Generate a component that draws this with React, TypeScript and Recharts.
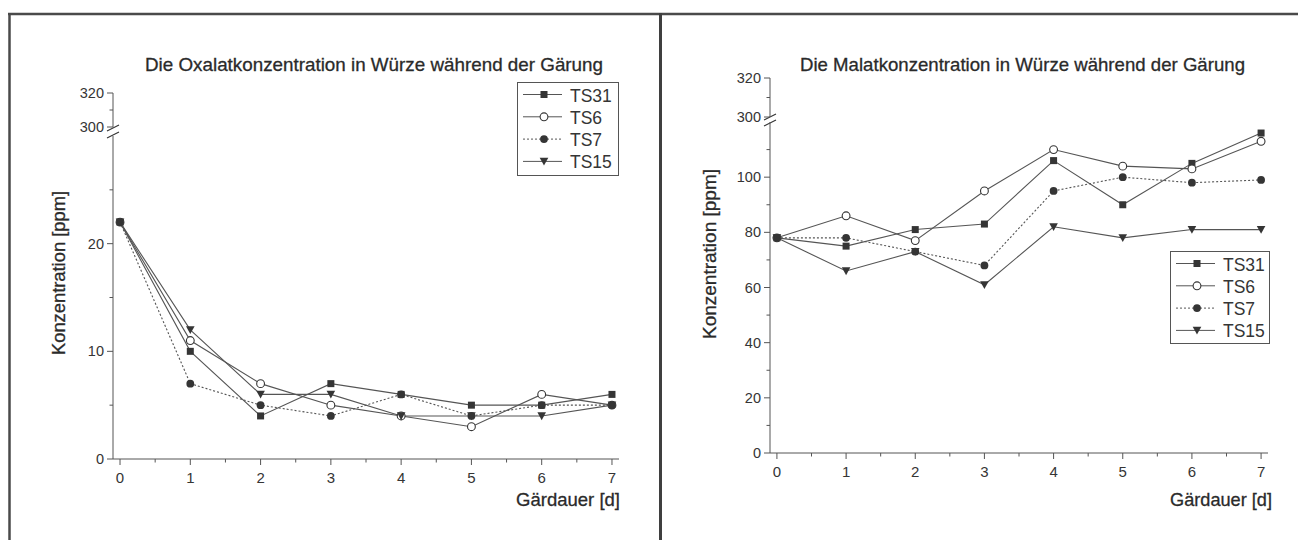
import React from 'react';
import { LineChart, Line, XAxis, YAxis, Legend } from 'recharts';

// ---------- data ----------
const days = [0, 1, 2, 3, 4, 5, 6, 7];
const seriesNames = ['TS31', 'TS6', 'TS7', 'TS15'];

const oxalatTS31 = [22, 10, 4, 7, 6, 5, 5, 6];
const oxalatTS6 = [22, 11, 7, 5, 4, 3, 6, 5];
const oxalatTS7 = [22, 7, 5, 4, 6, 4, 5, 5];
const oxalatTS15 = [22, 12, 6, 6, 4, 4, 4, 5];

const malatTS31 = [78, 75, 81, 83, 106, 90, 105, 116];
const malatTS6 = [78, 86, 77, 95, 110, 104, 103, 113];
const malatTS7 = [78, 78, 73, 68, 95, 100, 98, 99];
const malatTS15 = [78, 66, 73, 61, 82, 78, 81, 81];

const oxalatTitle = 'Die Oxalatkonzentration in Würze während der Gärung';
const malatTitle = 'Die Malatkonzentration in Würze während der Gärung';
const yAxisTitle = 'Konzentration [ppm]';
const xAxisTitle = 'Gärdauer [d]';

const xTicks = [0, 0.5, 1, 1.5, 2, 2.5, 3, 3.5, 4, 4.5, 5, 5.5, 6, 6.5, 7];
const xMajorTicks = [0, 1, 2, 3, 4, 5, 6, 7];
const upperTicks = [300, 310, 320];
const upperMajorTicks = [300, 320];
const oxalatTicks = [0, 5, 10, 15, 20, 25];
const oxalatMajorTicks = [0, 10, 20];
const malatTicks = [0, 10, 20, 30, 40, 50, 60, 70, 80, 90, 100, 110];
const malatMajorTicks = [0, 20, 40, 60, 80, 100];

// ---------- styles ----------
const INK = '#353535';
const LINE = '#555';
const FONT = "'Liberation Sans', Arial, Helvetica, sans-serif";

type Shape = 'square' | 'openCircle' | 'circle' | 'triangle';
const seriesStyle: { shape: Shape; dash?: string }[] = [
  { shape: 'square' },
  { shape: 'openCircle' },
  { shape: 'circle', dash: '2 2' },
  { shape: 'triangle' },
];

function buildRows(cols: number[][]) {
  return days.map((d, i) => {
    const row: Record<string, number> = { day: d };
    seriesNames.forEach((n, k) => {
      row[n] = cols[k][i];
    });
    return row;
  });
}

const oxalatRows = buildRows([oxalatTS31, oxalatTS6, oxalatTS7, oxalatTS15]);
const malatRows = buildRows([malatTS31, malatTS6, malatTS7, malatTS15]);

function Marker({ shape, cx, cy }: { shape: Shape; cx: number; cy: number }) {
  if (cx == null || cy == null || isNaN(cx) || isNaN(cy)) return null;
  switch (shape) {
    case 'square':
      return <rect x={cx - 3.5} y={cy - 3.5} width={7} height={7} fill={INK} />;
    case 'openCircle':
      return <circle cx={cx} cy={cy} r={3.9} fill="#fff" stroke={INK} strokeWidth={1.1} />;
    case 'circle':
      return <circle cx={cx} cy={cy} r={3.9} fill={INK} />;
    case 'triangle':
      return (
        <path
          d={`M${cx - 4.3},${cy - 3.6} L${cx + 4.3},${cy - 3.6} L${cx},${cy + 4.2} Z`}
          fill={INK}
        />
      );
  }
  return null;
}

function makeYTick(majors: number[]) {
  return (p: any) => {
    const { x, y, payload } = p;
    const major = majors.includes(payload.value);
    const len = major ? 6 : 3.5;
    return (
      <g>
        <line x1={x} y1={y} x2={x - len} y2={y} stroke={LINE} strokeWidth={1} />
        {major && (
          <text
            x={x - 9}
            y={y}
            textAnchor="end"
            dominantBaseline="central"
            fontSize={14.5}
            fill={INK}
            fontFamily={FONT}
            style={{ fontSize: 14.5 }}
          >
            {payload.value}
          </text>
        )}
      </g>
    );
  };
}

function makeXTick(majors: number[]) {
  return (p: any) => {
    const { x, y, payload } = p;
    const major = majors.includes(payload.value);
    const len = major ? 6 : 3.5;
    return (
      <g>
        <line x1={x} y1={y} x2={x} y2={y + len} stroke={LINE} strokeWidth={1} />
        {major && (
          <text
            x={x}
            y={y + 18}
            textAnchor="middle"
            dominantBaseline="central"
            fontSize={15}
            fill={INK}
            fontFamily={FONT}
            style={{ fontSize: 15 }}
          >
            {payload.value}
          </text>
        )}
      </g>
    );
  };
}

function LegendBox({ w, h }: { w: number; h: number }) {
  return (
    <div
      style={{
        width: w,
        height: h,
        border: `1px solid ${LINE}`,
        boxSizing: 'border-box',
        background: '#fff',
      }}
    >
      <svg width={w - 2} height={h - 2} style={{ display: 'block' }}>
        {seriesNames.map((n, i) => {
          const y = 11.5 + i * 22.3;
          const st = seriesStyle[i];
          return (
            <g key={n}>
              <line
                x1={5}
                y1={y}
                x2={44}
                y2={y}
                stroke={LINE}
                strokeWidth={1}
                strokeDasharray={st.dash}
              />
              <Marker shape={st.shape} cx={26} cy={y} />
              <text
                x={52}
                y={y + 1}
                dominantBaseline="central"
                fontSize={17.5}
                fill={INK}
                fontFamily={FONT}
              >
                {n}
              </text>
            </g>
          );
        })}
      </svg>
    </div>
  );
}

type PanelProps = {
  rows: Record<string, number>[];
  axisX: number;
  xEnd: number;
  lowTop: number;
  lowBottom: number;
  lowDomain: [number, number];
  lowTicks: number[];
  lowMajors: number[];
  upTop: number;
  upBottom: number;
  legend: { x: number; y: number; w: number; h: number };
};

const YW = 70;
const MR = 10;
const MT = 10;
const XH = 40;

function Panel(props: PanelProps) {
  const { rows, axisX, xEnd, lowTop, lowBottom, lowDomain, lowTicks, lowMajors, upTop, upBottom, legend } =
    props;
  const width = xEnd - axisX + YW + MR;
  const left = axisX - YW;
  const lowChartTop = lowTop - MT;
  const lowHeight = lowBottom - lowTop + MT + XH;
  const upChartTop = upTop - MT;
  const upHeight = upBottom - upTop + MT + 10;

  return (
    <>
      <div style={{ position: 'absolute', left, top: upChartTop }}>
        <LineChart width={width} height={upHeight} data={rows} margin={{ top: MT, right: MR, left: 0, bottom: 10 }}>
          <XAxis dataKey="day" type="number" domain={[-0.1, 7.1]} hide />
          <YAxis
            type="number"
            domain={[300, 320]}
            ticks={upperTicks}
            interval={0}
            width={YW}
            tickSize={0}
            tickMargin={0}
            tickLine={false}
            axisLine={{ stroke: LINE, strokeWidth: 1 }}
            tick={makeYTick(upperMajorTicks)}
            allowDataOverflow
          />
        </LineChart>
      </div>
      <div style={{ position: 'absolute', left, top: lowChartTop }}>
        <LineChart width={width} height={lowHeight} data={rows} margin={{ top: MT, right: MR, left: 0, bottom: 0 }}>
          <XAxis
            dataKey="day"
            type="number"
            domain={[-0.1, 7.1]}
            ticks={xTicks}
            interval={0}
            height={XH}
            tickSize={0}
            tickMargin={0}
            tickLine={false}
            axisLine={{ stroke: LINE, strokeWidth: 1 }}
            tick={makeXTick(xMajorTicks)}
            allowDataOverflow
          />
          <YAxis
            type="number"
            domain={lowDomain}
            ticks={lowTicks}
            interval={0}
            width={YW}
            tickSize={0}
            tickMargin={0}
            tickLine={false}
            axisLine={{ stroke: LINE, strokeWidth: 1 }}
            tick={makeYTick(lowMajors)}
            allowDataOverflow
          />
          <Legend
            layout="vertical"
            align="center"
            verticalAlign="middle"
            wrapperStyle={{
              left: legend.x - left,
              top: legend.y - lowChartTop,
              width: legend.w,
              height: legend.h,
            }}
            content={() => <LegendBox w={legend.w} h={legend.h} />}
          />
          {seriesNames.map((n, i) => (
            <Line
              key={n}
              type="linear"
              dataKey={n}
              stroke={LINE}
              strokeWidth={1.1}
              strokeDasharray={seriesStyle[i].dash}
              dot={(p: any) => <Marker key={`${n}-${p.index}`} shape={seriesStyle[i].shape} cx={p.cx} cy={p.cy} />}
              activeDot={false}
              isAnimationActive={false}
            />
          ))}
        </LineChart>
      </div>
    </>
  );
}

function BreakMarks({ x, y1, y2 }: { x: number; y1: number; y2: number }) {
  return (
    <g stroke={INK} strokeWidth={1.2}>
      <line x1={x - 6} y1={y1 + 3} x2={x + 6} y2={y1 - 3} />
      <line x1={x - 6} y1={y2 + 3} x2={x + 6} y2={y2 - 3} />
    </g>
  );
}

const TITLE_INK = '#2a2a2a';

export default function App() {
  return (
    <div
      style={{
        position: 'absolute',
        left: 0,
        top: 0,
        width: 1298,
        height: 540,
        background: '#fff',
        overflow: 'hidden',
        fontFamily: FONT,
      }}
    >
      <svg width={1298} height={540} style={{ position: 'absolute', left: 0, top: 0 }}>
        {/* frame */}
        <line x1={8} y1={14} x2={1298} y2={14} stroke="#4a4a4a" strokeWidth={2.5} />
        <line x1={9.5} y1={13} x2={9.5} y2={540} stroke="#4a4a4a" strokeWidth={2.5} />
        <line x1={660.5} y1={13} x2={660.5} y2={540} stroke="#3f3f3f" strokeWidth={3} />

        {/* titles */}
        <text x={145} y={64} dominantBaseline="central" fontSize={19} fill={TITLE_INK} stroke={TITLE_INK} strokeWidth={0.3} textLength={458} lengthAdjust="spacingAndGlyphs">
          {oxalatTitle}
        </text>
        <text x={800} y={64} dominantBaseline="central" fontSize={19} fill={TITLE_INK} stroke={TITLE_INK} strokeWidth={0.3} textLength={445} lengthAdjust="spacingAndGlyphs">
          {malatTitle}
        </text>

        {/* axis titles */}
        <text
          x={58}
          y={273}
          transform="rotate(-90 58 273)"
          textAnchor="middle"
          dominantBaseline="central"
          fontSize={19}
          fill={TITLE_INK}
          stroke={TITLE_INK}
          strokeWidth={0.3}
          textLength={164}
          lengthAdjust="spacingAndGlyphs"
        >
          {yAxisTitle}
        </text>
        <text
          x={709}
          y={254}
          transform="rotate(-90 709 254)"
          textAnchor="middle"
          dominantBaseline="central"
          fontSize={19}
          fill={TITLE_INK}
          stroke={TITLE_INK}
          strokeWidth={0.3}
          textLength={170}
          lengthAdjust="spacingAndGlyphs"
        >
          {yAxisTitle}
        </text>
        <text x={516} y={499} dominantBaseline="central" fontSize={19} fill={TITLE_INK} stroke={TITLE_INK} strokeWidth={0.3} textLength={104} lengthAdjust="spacingAndGlyphs">
          {xAxisTitle}
        </text>
        <text x={1170} y={499} dominantBaseline="central" fontSize={19} fill={TITLE_INK} stroke={TITLE_INK} strokeWidth={0.3} textLength={102} lengthAdjust="spacingAndGlyphs">
          {xAxisTitle}
        </text>

        <BreakMarks x={113} y1={128} y2={135} />
        <BreakMarks x={770} y1={117} y2={123} />
      </svg>

      <Panel
        rows={oxalatRows}
        axisX={113}
        xEnd={619}
        lowTop={136}
        lowBottom={459}
        lowDomain={[0, 30]}
        lowTicks={oxalatTicks}
        lowMajors={oxalatMajorTicks}
        upTop={93}
        upBottom={127}
        legend={{ x: 517, y: 82, w: 102, h: 94 }}
      />
      <Panel
        rows={malatRows}
        axisX={770}
        xEnd={1268}
        lowTop={122}
        lowBottom={453}
        lowDomain={[0, 120]}
        lowTicks={malatTicks}
        lowMajors={malatMajorTicks}
        upTop={78}
        upBottom={117}
        legend={{ x: 1170, y: 251, w: 100, h: 93 }}
      />
    </div>
  );
}
